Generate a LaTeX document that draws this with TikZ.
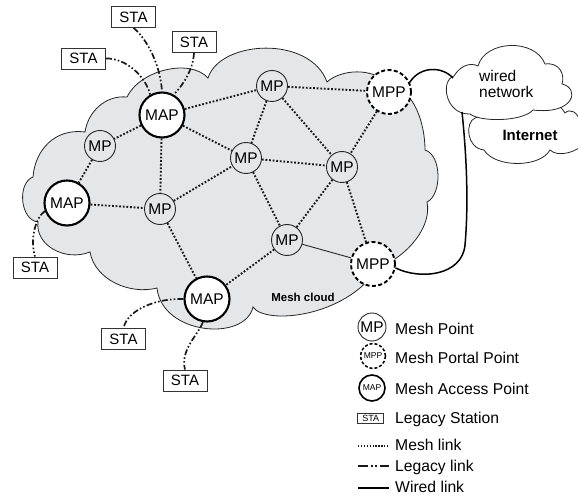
\documentclass[tikz,border=0pt]{standalone}
\usepackage{fontspec}
\setmainfont{Liberation Sans}
\pgfdeclarelayer{background}
\pgfsetlayers{background,main}
\begin{document}
\begin{tikzpicture}[x=1pt,y=-1pt,
  nodefont/.style={font=\fontsize{15.5}{16}\selectfont},
  mpnode/.style={circle, draw=black!85, line width=0.9pt, minimum size=31pt, inner sep=0pt, nodefont},
  mapnode/.style={circle, draw=black, fill=white, line width=2.1pt, minimum size=45pt, inner sep=0pt, nodefont},
  mppnode/.style={circle, draw=black, fill=white, line width=1.9pt, dash pattern=on 4pt off 2.4pt, minimum size=44pt, inner sep=0pt, nodefont},
  stabox/.style={rectangle, draw=black!80, fill=white, line width=0.9pt, minimum width=44pt, minimum height=21pt, inner sep=0pt, font=\fontsize{15}{16}\selectfont},
  meshlink/.style={draw=black!90, line width=1.9pt, dash pattern=on 1.8pt off 1.8pt},
  legacylink/.style={draw=black!90, line width=1.7pt, dash pattern=on 6pt off 2.2pt on 1.6pt off 2.2pt on 1.6pt off 2.2pt},
  wiredlink/.style={draw=black, line width=1.5pt},
  plainlink/.style={draw=black!85, line width=0.9pt},
  cloudedge/.style={draw=black!85, line width=0.8pt},
  legtext/.style={anchor=base west, inner sep=0pt, font=\fontsize{15.7}{18}\selectfont},
]
\useasboundingbox (0,0) rectangle (578,497);
\clip (0,0) rectangle (578,497);

% ---------- mesh nodes ----------
\node[mapnode] (map1) at (162,115) {MAP};
\node[mpnode]  (mpa)  at (100,146) {MP};
\node[mapnode] (map2) at (67,203) {MAP};
\node[mpnode]  (mpb)  at (160,209) {MP};
\node[mpnode]  (mpc)  at (246,158) {MP};
\node[mpnode]  (mpt)  at (272,86) {MP};
\node[mppnode] (mppt) at (389,92) {MPP};
\node[mpnode]  (mpd)  at (342,167) {MP};
\node[mpnode]  (mpe)  at (287,240) {MP};
\node[mppnode] (mppb) at (373,264) {MPP};
\node[mapnode] (map3) at (207,299) {MAP};

% ---------- legacy stations ----------
\node[stabox] (staT)  at (133.5,17) {STA};
\node[stabox] (staR)  at (194,42) {STA};
\node[stabox] (staL)  at (83.5,58.5) {STA};
\node[stabox] (staLB) at (35,267.5) {STA};
\node[stabox] (staBL) at (123.5,339) {STA};
\node[stabox] (staB)  at (185,380.5) {STA};

% ---------- labels ----------
\node[font=\bfseries\fontsize{11.5}{12}\selectfont] (cloudlbl) at (303,297) {Mesh cloud};
\node[font=\bfseries\fontsize{15}{16}\selectfont] (inet) at (530,135) {Internet};
\node[align=left, anchor=west, inner sep=0pt, font=\fontsize{15.5}{16}\selectfont] (wnet) at (479,84) {wired\\network};

% attachment points on the wired network cloud
\coordinate (wcL) at (453,78);
\coordinate (wcB) at (462,112);

% ---------- clouds ----------
\begin{pgfonlayer}{background}
  % Internet cloud (partly hidden by the wired network cloud)
  \path[cloudedge, fill=white]
    (475,118) .. controls (465,122) and (466,148) .. (484,150)
    .. controls (495,168) and (540,168) .. (550,150)
    .. controls (558,158) and (578,152) .. (586,142)
    .. controls (592,135) and (590,122) .. (580,122)
    .. controls (578,112) and (570,108) .. (565,113)
    .. controls (560,104) and (552,102) .. (548,108)
    -- (520,105) -- cycle;
  % wired network cloud
  \path[cloudedge, fill=white]
    (454,76) .. controls (460,66) and (470,62) .. (478,66)
    .. controls (485,40) and (535,38) .. (545,64)
    .. controls (560,62) and (565,75) .. (562,84)
    .. controls (580,88) and (575,115) .. (533,110)
    .. controls (522,122) and (480,122) .. (470,114)
    .. controls (445,115) and (440,80) .. cycle;
  % mesh cloud
  \path[cloudedge, fill={rgb,255:red,229;green,230;blue,231}]
    (33,177) .. controls (35,150) and (55,128) .. (85,132)
    .. controls (88,112) and (105,95) .. (127,97)
    .. controls (140,70) and (190,58) .. (208,78)
    .. controls (220,40) and (310,35) .. (327,82)
    .. controls (340,70) and (372,66) .. (390,85)
    .. controls (415,90) and (425,125) .. (425,150)
    .. controls (442,155) and (442,195) .. (427,202)
    .. controls (432,225) and (410,255) .. (378,268)
    .. controls (345,318) and (265,325) .. (253,307)
    .. controls (245,342) and (162,335) .. (157,288)
    .. controls (130,295) and (95,280) .. (90,252)
    .. controls (65,262) and (35,245) .. (38,222)
    .. controls (20,220) and (17,183) .. cycle;
\end{pgfonlayer}

% ---------- mesh links ----------
\draw[meshlink] (map1) -- (mpt);
\draw[meshlink] (map1) -- (mpa);
\draw[meshlink] (map1) -- (mpb);
\draw[meshlink] (map1) -- (mpc);
\draw[meshlink] (mpa) -- (map2);
\draw[meshlink] (map2) -- (mpb);
\draw[meshlink] (mpb) -- (mpc);
\draw[meshlink] (mpb) -- (map3);
\draw[meshlink] (mpt) -- (mppt);
\draw[meshlink] (mpt) -- (mpc);
\draw[meshlink] (mpt) -- (mpd);
\draw[meshlink] (mpc) -- (mpd);
\draw[meshlink] (mpc) -- (mpe);
\draw[meshlink] (mppt) -- (mpd);
\draw[meshlink] (mpd) -- (mpe);
\draw[meshlink] (mpd) -- (mppb);
\draw[meshlink] (mpe) -- (map3);
\draw[plainlink] (mpe) -- (mppb);

% ---------- legacy links ----------
\draw[legacylink] (staT.south) .. controls (143,35) and (160,60) .. (map1.north);
\draw[legacylink] (staR.south) .. controls (193,70) and (183,85) .. (map1.60);
\draw[legacylink] (staL.east) .. controls (125,58) and (145,75) .. (map1.120);
\draw[legacylink] (map2.200) .. controls (35,218) and (30,240) .. (staLB.north);
\draw[legacylink] (map3.west) .. controls (160,298) and (128,308) .. (staBL.north);
\draw[legacylink] (map3.260) .. controls (198,335) and (180,350) .. (staB.north);

% ---------- wired links ----------
\draw[wiredlink] (mppt.25) .. controls (420,66) and (442,66) .. (wcL);
\draw[wiredlink] (mppb.-10) .. controls (420,280) and (462,276) .. (465,245)
  .. controls (469,200) and (466,150) .. (wcB);

% ---------- legend ----------
\node[mpnode, fill=white, minimum size=28pt] (lgmp) at (372,327) {MP};
\node[mppnode, minimum size=25pt, line width=1.5pt, dash pattern=on 3pt off 2pt, font=\fontsize{8.5}{9}\selectfont] (lgmpp) at (373,356) {MPP};
\node[mapnode, minimum size=26pt, line width=1.6pt, font=\fontsize{8.5}{9}\selectfont] (lgmap) at (372,388) {MAP};
\node[stabox, minimum width=26pt, minimum height=9.5pt, line width=0.8pt, font=\fontsize{9}{9}\selectfont] (lgsta) at (370.8,418.3) {STA};
\coordinate (lgm1) at (358,446);  \coordinate (lgm2) at (389,446);
\coordinate (lgl1) at (358,466);  \coordinate (lgl2) at (389,466);
\coordinate (lgw1) at (358,488);  \coordinate (lgw2) at (389,488);
\draw[draw=black!90, line width=1.4pt, dash pattern=on 1.3pt off 1.6pt] (lgm1) -- (lgm2);
\draw[draw=black!90, line width=1.6pt, dash pattern=on 10pt off 3pt on 1.5pt off 2.5pt on 1.5pt off 3pt] (lgl1) -- (lgl2);
\draw[draw=black, line width=1.5pt] (lgw1) -- (lgw2);

\node[legtext] (tmp)  at (395,334) {Mesh Point};
\node[legtext] (tmpp) at (395,363) {Mesh Portal Point};
\node[legtext] (tmap) at (395,394) {Mesh Access Point};
\node[legtext] (tsta) at (395,423) {Legacy Station};
\node[legtext] (tml)  at (395,450) {Mesh link};
\node[legtext] (tll)  at (395,471) {Legacy link};
\node[legtext] (twl)  at (395,492) {Wired link};
\end{tikzpicture}
\end{document}
